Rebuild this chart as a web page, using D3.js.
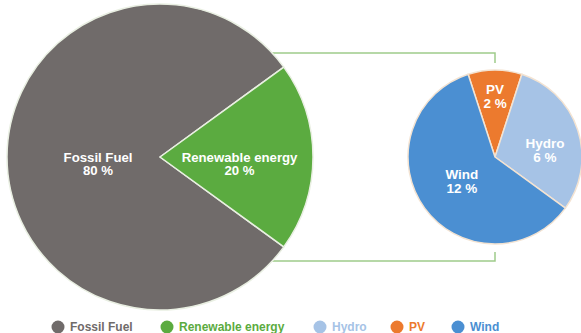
<!DOCTYPE html>
<html lang="en">
<head>
    <meta charset="UTF-8">
    <title>Energy mix</title>
    <style>
        body { margin: 0; background: #fff; }
        text { font-family: "Liberation Sans Narrow", "Arial Narrow", "Liberation Sans", sans-serif; font-weight: bold; }
    </style>
</head>
<body>
<div id="content"></div>

<script src="https://d3js.org/d3.v7.min.js"></script>
<script>

    // main split
    var mainNames = ["Fossil Fuel", "Renewable energy"],
        mainValues = [80, 20];

    // breakdown of renewables
    var subNames = ["PV", "Hydro", "Wind"],
        subValues = [2, 6, 12];

    // legend order
    var legendNames = ["Fossil Fuel", "Renewable energy", "Hydro", "PV", "Wind"];

    var width = 581, height = 333;

    var color = d3.scaleOrdinal()
        .domain(["Fossil Fuel", "Renewable energy", "Hydro", "PV", "Wind"])
        .range(["#706b6a", "#5bab40", "#a6c3e6", "#ec7a2e", "#4b8fd2"]);

    var svg = d3.select("#content")
        .append("svg")
        .attr("width", width)
        .attr("height", height);

    var deg = Math.PI / 180;

    var big = {cx: 160, cy: 157, r: 153},
        small = {cx: 495, cy: 157, r: 87};

    // connector lines (drawn first so the big pie covers their start)
    var lineY = 104;
    var connector = d3.line();
    var conn = svg.append("g")
        .attr("fill", "none")
        .attr("stroke", "#9fcb8a")
        .attr("stroke-width", 1.5);
    conn.append("path").attr("d", connector([
        [big.cx + 100, big.cy - lineY], [small.cx, big.cy - lineY], [small.cx, small.cy - small.r - 7]
    ]));
    conn.append("path").attr("d", connector([
        [big.cx + 100, big.cy + lineY], [small.cx, big.cy + lineY], [small.cx, small.cy + small.r + 8]
    ]));

    // opts.k = label radius as a share of r, opts.da = angle nudge (deg), opts.shift = vertical nudge
    function drawPie(cfg, names, values, start, opts, strokeCol) {
        var pie = d3.pie().sort(null)
            .startAngle(start * deg)
            .endAngle((start + 360) * deg);
        var arcs = pie(values);
        var arc = d3.arc().innerRadius(0).outerRadius(cfg.r);

        var g = svg.append("g")
            .attr("transform", "translate(" + cfg.cx + "," + cfg.cy + ")");

        g.selectAll("path")
            .data(arcs)
            .enter()
            .append("path")
            .attr("d", arc)
            .attr("fill", function (d, i) { return color(names[i]); })
            .attr("stroke", strokeCol)
            .attr("stroke-width", 1.5)
            .attr("stroke-linejoin", "round");

        var lbl = g.selectAll("text.lbl")
            .data(arcs)
            .enter()
            .append("text")
            .attr("class", "lbl")
            .attr("fill", "#fff")
            .attr("font-size", opts.size)
            .attr("text-anchor", "middle")
            .attr("transform", function (d, i) {
                var a = (d.startAngle + d.endAngle) / 2 + opts.da[i] * deg;
                var rr = cfg.r * opts.k[i];
                return "translate(" + (Math.sin(a) * rr) + "," + (-Math.cos(a) * rr + opts.shift) + ")";
            });

        lbl.append("tspan")
            .attr("x", 0)
            .attr("dy", "-0.15em")
            .text(function (d, i) { return names[i]; });
        lbl.append("tspan")
            .attr("x", 0)
            .attr("dy", "1.05em")
            .text(function (d, i) { return values[i] + " %"; });
    }

    drawPie(big, mainNames, mainValues, 126, {k: [0.405, 0.52], da: [0, 0], shift: 6.5, size: 13.2}, "#e9efe2");
    drawPie(small, subNames, subValues, -18, {k: [0.70, 0.58, 0.47], da: [0, 10, 0], shift: 0, size: 13.5}, "#f3e3d2");

    // legend
    var legendX = [58, 167, 320, 397, 458];
    var legend = svg.append("g")
        .attr("transform", "translate(0,327)");

    var item = legend.selectAll("g")
        .data(legendNames)
        .enter()
        .append("g")
        .attr("transform", function (d, i) { return "translate(" + legendX[i] + ",0)"; });

    item.append("circle")
        .attr("r", 6.5)
        .attr("fill", function (d) { return color(d); });

    item.append("text")
        .attr("x", 12)
        .attr("dy", "0.35em")
        .attr("font-size", 12)
        .attr("fill", function (d) { return color(d); })
        .text(function (d) { return d; });

</script>
</body>
</html>
